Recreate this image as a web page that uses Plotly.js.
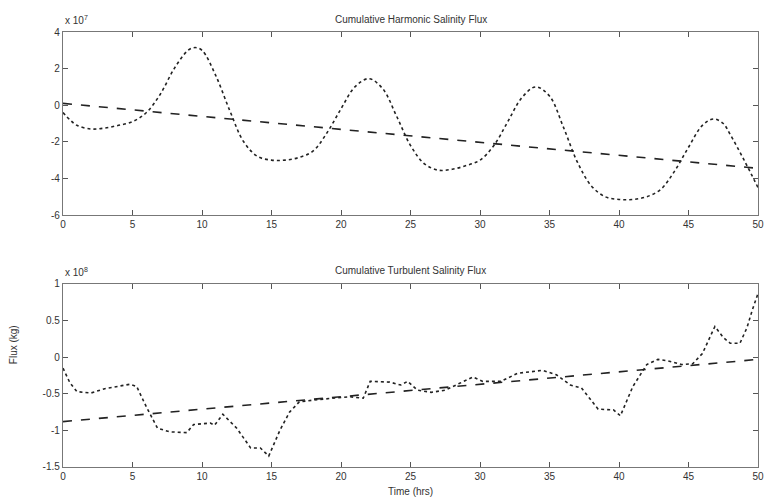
<!DOCTYPE html>
<html>
<head>
<meta charset="utf-8">
<script src="https://cdn.plot.ly/plotly-3.0.1.min.js"></script>
<style>html,body{margin:0;padding:0;background:#fff;}#chart{width:766px;height:498px;}</style>
</head>
<body>
<div id="chart"></div>
<script>
// Top panel: cumulative harmonic salinity flux (x 10^7)
var harmT = [0,0.5,1,2,3,4,5,6,7,8,9,9.5,10,11,12,13,14,15,16,17,18,19,20,21,22,23,24,25,26,27,28,29,30,31,32,33,34,35,36,37,38,39,40,41,42,43,44,45,46,46.8,47.5,48,49,50];
var harmV = [-0.4,-0.8,-1.1,-1.3,-1.25,-1.1,-0.9,-0.4,0.6,2.0,3.0,3.15,3.0,1.6,-0.3,-2.0,-2.8,-3.0,-3.0,-2.85,-2.5,-1.5,-0.2,1.0,1.45,0.9,-0.6,-2.2,-3.2,-3.55,-3.5,-3.3,-3.0,-2.2,-0.9,0.4,1.0,0.5,-1.2,-3.1,-4.4,-5.0,-5.15,-5.15,-5.0,-4.6,-3.6,-2.3,-1.1,-0.75,-1.0,-1.6,-3.0,-4.5];
var harmTrendT = [0,50];
var harmTrendV = [0.1,-3.45];

// Bottom panel: cumulative turbulent salinity flux (x 10^8)
var turbT = [0,0.5,1,2,3,4,4.8,5.3,6,6.8,7.7,8.9,9.4,10.6,10.9,11.5,12.5,13.5,14.2,14.8,15.6,16.3,17,18.3,19.4,20.6,21.6,22.1,23.5,24.3,24.8,25.5,26.5,27.5,28.5,29.5,30.2,31.5,32.7,34.5,35.5,36.5,37.3,38.5,39.6,40.1,41,42,42.8,43.5,44.5,45.3,46,46.9,47.5,48,48.7,49.2,49.6,50];
var turbV = [-0.15,-0.35,-0.47,-0.49,-0.43,-0.4,-0.37,-0.4,-0.68,-0.97,-1.02,-1.03,-0.92,-0.9,-0.93,-0.78,-0.97,-1.24,-1.24,-1.35,-1.0,-0.75,-0.61,-0.58,-0.56,-0.54,-0.56,-0.33,-0.34,-0.38,-0.33,-0.45,-0.48,-0.45,-0.36,-0.27,-0.33,-0.33,-0.22,-0.18,-0.24,-0.38,-0.42,-0.71,-0.72,-0.8,-0.4,-0.1,-0.03,-0.05,-0.1,-0.09,0.05,0.42,0.27,0.19,0.19,0.4,0.65,0.87];
var turbTrendT = [0,50];
var turbTrendV = [-0.88,-0.03];

var xTicks = [0,5,10,15,20,25,30,35,40,45,50];
var topYTicks = [-6,-4,-2,0,2,4];
var botYTicks = [-1.5,-1,-0.5,0,0.5,1];

var lineCol = '#222';
var traces = [
  {x: harmT, y: harmV, xaxis:'x', yaxis:'y', mode:'lines', line:{color:lineCol, width:1.6, dash:'dot', shape:'spline'}, hoverinfo:'skip'},
  {x: harmTrendT, y: harmTrendV, xaxis:'x', yaxis:'y', mode:'lines', line:{color:lineCol, width:1.6, dash:'9px,9px'}, hoverinfo:'skip'},
  {x: turbT, y: turbV, xaxis:'x2', yaxis:'y2', mode:'lines', line:{color:lineCol, width:1.6, dash:'dot'}, hoverinfo:'skip'},
  {x: turbTrendT, y: turbTrendV, xaxis:'x2', yaxis:'y2', mode:'lines', line:{color:lineCol, width:1.6, dash:'9px,9px'}, hoverinfo:'skip'}
];

var tickFont = {family:'Liberation Sans, Arial, sans-serif', size:10, color:'#333'};
function xax(anchor){
  return {range:[0,50], tickvals:xTicks, ticktext:xTicks.map(String), anchor:anchor,
    showline:true, mirror:'ticks', linecolor:'#777', linewidth:1.2, ticks:'inside', ticklen:5, tickcolor:'#555',
    showgrid:false, zeroline:false, tickfont:tickFont, ticklabelstandoff:0};
}
function yax(range, ticks, domain, anchor){
  return {range:range, tickvals:ticks, ticktext:ticks.map(String), domain:domain, anchor:anchor,
    showline:true, mirror:'ticks', linecolor:'#777', linewidth:1.2, ticks:'inside', ticklen:5, tickcolor:'#555',
    showgrid:false, zeroline:false, tickfont:tickFont};
}

var annFont = {family:'Liberation Sans, Arial, sans-serif', size:10, color:'#333'};
var layout = {
  width:766, height:498,
  margin:{l:63, r:8, t:32, b:31},
  paper_bgcolor:'#fff', plot_bgcolor:'#fff',
  showlegend:false,
  xaxis: xax('y'),
  yaxis: yax([-6,4], topYTicks, [0.5793,1], 'x'),
  xaxis2: xax('y2'),
  yaxis2: yax([-1.5,1], botYTicks, [0,0.4207], 'x2'),
  annotations:[
    {text:'Cumulative Harmonic Salinity Flux', xref:'paper', yref:'paper', x:0.5, y:1, yshift:13, showarrow:false, font:annFont, xanchor:'center', yanchor:'middle'},
    {text:'Cumulative Turbulent Salinity Flux', xref:'paper', yref:'paper', x:0.5, y:0.4207, yshift:13, showarrow:false, font:annFont, xanchor:'center', yanchor:'middle'},
    {text:'x 10<sup>7</sup>', xref:'paper', yref:'paper', x:0, y:1, yshift:12, showarrow:false, font:annFont, xanchor:'left', yanchor:'middle'},
    {text:'x 10<sup>8</sup>', xref:'paper', yref:'paper', x:0, y:0.4207, yshift:12, showarrow:false, font:annFont, xanchor:'left', yanchor:'middle'},
    {text:'Flux (kg)', xref:'paper', yref:'paper', x:0, xshift:-50, y:0.28, showarrow:false, font:annFont, textangle:-90, xanchor:'center', yanchor:'middle'},
    {text:'Time (hrs)', xref:'paper', yref:'paper', x:0.5, y:0, yshift:-24, showarrow:false, font:annFont, xanchor:'center', yanchor:'middle'}
  ]
};

Plotly.newPlot('chart', traces, layout, {displayModeBar:false, staticPlot:true});
</script>
</body>
</html>
